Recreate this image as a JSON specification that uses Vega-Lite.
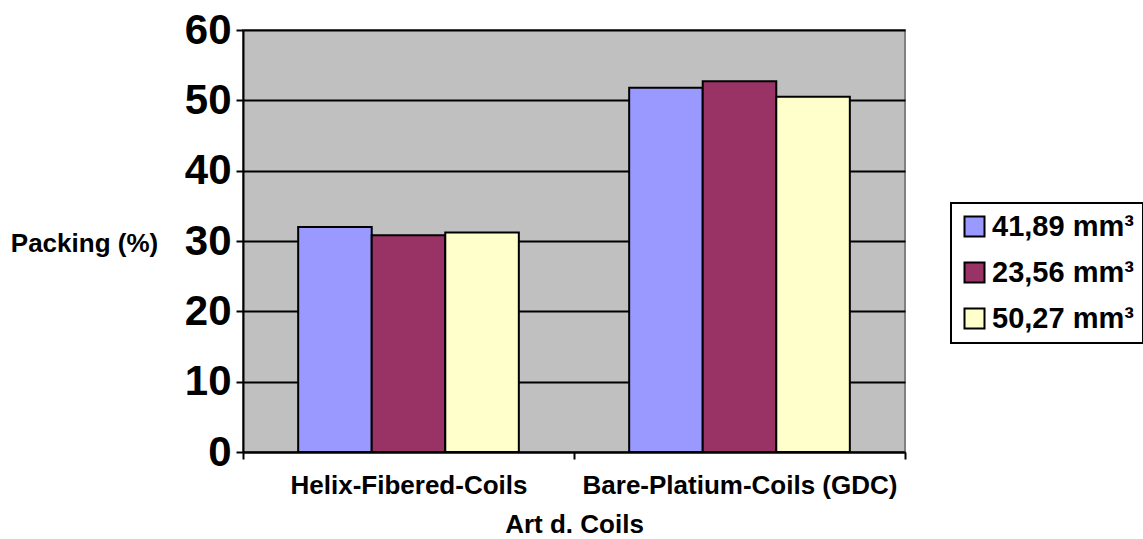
{
  "$schema": "https://vega.github.io/schema/vega-lite/v6.json",
  "width": 662,
  "height": 422,
  "autosize": {"type": "none"},
  "padding": {"left": 243, "top": 30, "right": 238, "bottom": 87},
  "background": "white",
  "config": {
    "font": "Liberation Sans",
    "view": {"fill": "#C0C0C0", "stroke": "#808080", "strokeWidth": 2},
    "legend": {"strokeColor": "black", "strokeWidth": 2, "fillColor": "white", "padding": 9}
  },
  "data": {
    "values": [
      {"coil": "Helix-Fibered-Coils", "volume": "41,89 mm³", "packing": 32.0},
      {"coil": "Helix-Fibered-Coils", "volume": "23,56 mm³", "packing": 30.8},
      {"coil": "Helix-Fibered-Coils", "volume": "50,27 mm³", "packing": 31.2},
      {"coil": "Bare-Platium-Coils (GDC)", "volume": "41,89 mm³", "packing": 51.8},
      {"coil": "Bare-Platium-Coils (GDC)", "volume": "23,56 mm³", "packing": 52.7},
      {"coil": "Bare-Platium-Coils (GDC)", "volume": "50,27 mm³", "packing": 50.5}
    ]
  },
  "mark": {"type": "bar", "stroke": "black", "strokeWidth": 2},
  "encoding": {
    "x": {
      "field": "coil",
      "type": "nominal",
      "sort": ["Helix-Fibered-Coils", "Bare-Platium-Coils (GDC)"],
      "scale": {"paddingInner": 0, "paddingOuter": 0},
      "axis": {
        "title": "Art d. Coils",
        "titleFontSize": 26,
        "titleFontWeight": "bold",
        "titleColor": "black",
        "titlePadding": 13,
        "labelAngle": 0,
        "labelFontSize": 26,
        "labelFontWeight": "bold",
        "labelColor": "black",
        "labelPadding": 13,
        "labelLimit": 400,
        "tickBand": "extent",
        "tickColor": "black",
        "tickSize": 7,
        "tickWidth": 2,
        "domainColor": "black",
        "domainWidth": 2,
        "grid": false
      }
    },
    "xOffset": {
      "field": "volume",
      "type": "nominal",
      "sort": ["41,89 mm³", "23,56 mm³", "50,27 mm³"],
      "scale": {"paddingInner": 0, "paddingOuter": 0.75}
    },
    "y": {
      "field": "packing",
      "type": "quantitative",
      "scale": {"domain": [0, 60], "nice": false},
      "axis": {
        "values": [0, 10, 20, 30, 40, 50, 60],
        "title": "Packing (%)",
        "titleAngle": 0,
        "titleFontSize": 26,
        "titleFontWeight": "bold",
        "titleColor": "black",
        "titleAlign": "center",
        "titleBaseline": "middle",
        "titleX": -159,
        "titleY": 213,
        "labelFontSize": 42,
        "labelFontWeight": "bold",
        "labelColor": "black",
        "labelPadding": 5,
        "tickColor": "black",
        "tickSize": 7,
        "tickWidth": 2,
        "domainColor": "black",
        "domainWidth": 2,
        "grid": true,
        "gridColor": "black",
        "gridWidth": 2
      }
    },
    "color": {
      "field": "volume",
      "type": "nominal",
      "sort": ["41,89 mm³", "23,56 mm³", "50,27 mm³"],
      "scale": {
        "domain": ["41,89 mm³", "23,56 mm³", "50,27 mm³"],
        "range": ["#9999FF", "#993366", "#FFFFCC"]
      },
      "legend": {
        "title": null,
        "orient": "none",
        "legendX": 708,
        "legendY": 173,
        "symbolType": "square",
        "symbolSize": 400,
        "symbolStrokeColor": "black",
        "symbolStrokeWidth": 2,
        "symbolOpacity": 1,
        "labelFontSize": 29,
        "labelFontWeight": "bold",
        "labelColor": "black",
        "labelLimit": 400,
        "labelOffset": 3,
        "rowPadding": 16
      }
    }
  }
}
